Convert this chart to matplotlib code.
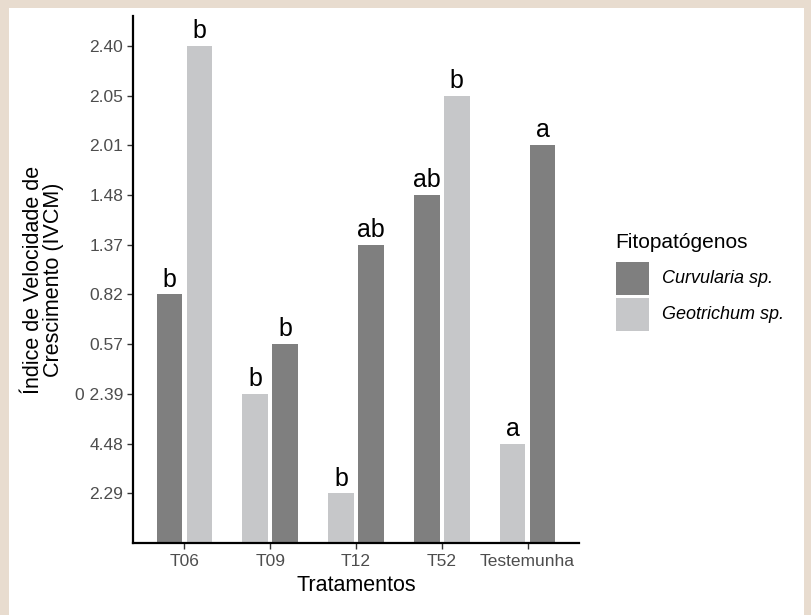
import numpy as np
import matplotlib
matplotlib.use("Agg")
import matplotlib.pyplot as plt
from matplotlib.patches import Rectangle

plt.rcParams['font.family'] = ['Liberation Sans', 'DejaVu Sans']

# data (y axis is a discrete scale of the value labels)
groups = ["T06", "T09", "T12", "T52", "Testemunha"]
y_levels = ["2.29", "4.48", "0 2.39", "0.57", "0.82", "1.37", "1.48", "2.01", "2.05", "2.40"]
curv_vals = ["0.82", "0.57", "1.37", "1.48", "2.01"]
geot_vals = ["2.40", "0 2.39", "2.29", "2.05", "4.48"]
curv_letters = ["b", "b", "ab", "ab", "a"]
geot_letters = ["b", "b", "b", "b", "a"]
curv_on_left = [True, False, False, True, False]
series_names = ["Curvularia sp.", "Geotrichum sp."]

dark = "#7F7F7F"
light = "#C6C7C9"
W, H = 811, 615

fig = plt.figure(figsize=(W / 100, H / 100), dpi=100, facecolor="#E8DCCF")
# white slide box
fig.patches.append(Rectangle((9 / W, 0), (804 - 9) / W, 1 - 8 / H,
                             transform=fig.transFigure, facecolor="white",
                             edgecolor="none", zorder=-5))

ax = fig.add_axes([133 / W, 1 - 543 / H, (579 - 133) / W, (543 - 16) / H])
ax.set_zorder(2)
ax.set_facecolor("white")

x = np.arange(1, len(groups) + 1)
off = 0.175
w = 0.30
curv_h = [y_levels.index(v) + 1 for v in curv_vals]
geot_h = [y_levels.index(v) + 1 for v in geot_vals]
curv_x = [xi - off if left else xi + off for xi, left in zip(x, curv_on_left)]
geot_x = [xi + off if left else xi - off for xi, left in zip(x, curv_on_left)]

ax.bar(curv_x, curv_h, width=w, color=dark, zorder=2)
ax.bar(geot_x, geot_h, width=w, color=light, zorder=2)

for xs, hs, labs in [(curv_x, curv_h, curv_letters), (geot_x, geot_h, geot_letters)]:
    for xi, hi, lab in zip(xs, hs, labs):
        ax.annotate(lab, (xi, hi), xytext=(0, 2), textcoords="offset points",
                    ha="center", va="bottom", fontsize=18, color="black")

ax.set_xlim(0.4, 5.6)
ax.set_ylim(0, 10.6)
ax.set_xticks(x)
ax.set_xticklabels(groups)
ax.set_yticks(np.arange(1, len(y_levels) + 1))
ax.set_yticklabels(y_levels)
ax.tick_params(axis="both", length=4, width=1, color="#333333",
               labelsize=12.5, labelcolor="#4D4D4D")
ax.tick_params(axis="x", pad=4)
ax.tick_params(axis="y", pad=3)

for s in ["top", "right"]:
    ax.spines[s].set_visible(False)
for s in ["left", "bottom"]:
    ax.spines[s].set_linewidth(1.6)
    ax.spines[s].set_color("black")

ax.set_xlabel("Tratamentos", fontsize=15.5, labelpad=4)
ax.set_ylabel("Índice de Velocidade de\nCrescimento (IVCM)", fontsize=15.5,
              labelpad=8, linespacing=0.95)

# legend drawn by hand (ggplot-style square keys)
fig.text(615 / W, 1 - 242 / H, "Fitopatógenos", fontsize=15, ha="left", va="center")
for i, (name, col) in enumerate(zip(series_names, [dark, light])):
    top = 262 + i * 36
    fig.patches.append(Rectangle((616 / W, 1 - (top + 33) / H), 33 / W, 33 / H,
                                 transform=fig.transFigure, facecolor=col,
                                 edgecolor="none", zorder=3))
    fig.text(662 / W, 1 - (top + 16.5) / H, name, fontsize=13, fontstyle="italic",
             ha="left", va="center")

fig.savefig("out.png", dpi=100, facecolor=fig.get_facecolor())
